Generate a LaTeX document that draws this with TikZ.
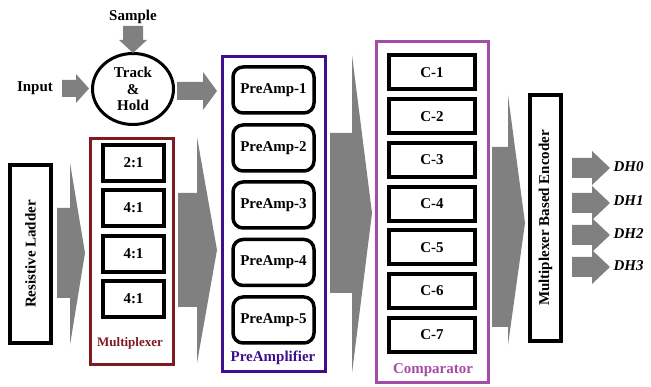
\documentclass[tikz,border=0pt]{standalone}
\usepackage{fontspec}
\setmainfont{Liberation Serif}
\usetikzlibrary{shapes.geometric}
\definecolor{muxred}{HTML}{801A22}
\definecolor{papurple}{HTML}{3F0F8E}
\definecolor{cmporchid}{HTML}{A54BA8}
\definecolor{arrgray}{HTML}{808080}
\begin{document}
\begin{tikzpicture}[x=1pt,y=-1pt,
  font=\bfseries\fontsize{15}{17}\selectfont,
  muxbox/.style={draw=black, line width=4pt, fill=white, minimum width=61pt, minimum height=36pt, inner sep=0pt},
  pabox/.style={draw=black, line width=3.5pt, rounded corners=10pt, fill=white, minimum width=81pt, minimum height=46pt, inner sep=0pt},
  cbox/.style={draw=black, line width=4pt, fill=white, minimum width=86pt, minimum height=34pt, inner sep=0pt},
  outerbox/.style={draw=#1, line width=3pt, inner sep=0pt},
  tallbox/.style={draw=black, line width=4pt, fill=white, inner sep=0pt},
  garrow/.style={fill=arrgray, draw=none},
  dhlabel/.style={anchor=west, font=\bfseries\itshape\fontsize{15}{17}\selectfont}
]
\useasboundingbox (0,0) rectangle (651,387);

% outer group boxes
\node[outerbox=muxred, minimum width=83pt, minimum height=226pt] (mux) at (132,251.5) {};
\node[outerbox=papurple, minimum width=103pt, minimum height=315pt] (pre) at (274,214) {};
\node[outerbox=cmporchid, minimum width=112pt, minimum height=341pt] (cmp) at (432.5,212) {};

% top inputs
\node (sample) at (133,17) {Sample};
\node (input) at (35,88) {Input};
\node[draw=black, line width=3pt, ellipse, minimum width=81pt, minimum height=71pt, inner sep=0pt, align=center] (th) at (133,89) {Track\\[-0.5pt]\&\\[-0.5pt]Hold};

% resistive ladder
\node[tallbox, minimum width=41pt, minimum height=178pt] (ladder) at (30.5,254) {};
\node[rotate=90] (ladderlbl) at (ladder.center) {Resistive Ladder};

% multiplexer contents
\node[muxbox] (m1) at (133.5,163) {2:1};
\node[muxbox] (m2) at (133.5,208) {4:1};
\node[muxbox] (m3) at (133.5,254) {4:1};
\node[muxbox] (m4) at (133.5,299) {4:1};
\node[text=muxred, font=\bfseries\fontsize{13}{15}\selectfont] (muxlbl) at (130,343) {Multiplexer};

% preamplifiers
\node[pabox] (p1) at (273.5,90) {PreAmp-1};
\node[pabox] (p2) at (273.5,148) {PreAmp-2};
\node[pabox] (p3) at (273.5,205) {PreAmp-3};
\node[pabox] (p4) at (273.5,262.5) {PreAmp-4};
\node[pabox] (p5) at (273.5,320) {PreAmp-5};
\node[text=papurple] (prelbl) at (273,358) {PreAmplifier};

% comparators
\node[cbox] (c1) at (432,72.5) {C-1};
\node[cbox] (c2) at (432,116.5) {C-2};
\node[cbox] (c3) at (432,160) {C-3};
\node[cbox] (c4) at (432,204) {C-4};
\node[cbox] (c5) at (432,247.5) {C-5};
\node[cbox] (c6) at (432,291) {C-6};
\node[cbox] (c7) at (432,335) {C-7};
\node[text=cmporchid] (cmplbl) at (433,370) {Comparator};

% encoder
\node[tallbox, minimum width=31pt, minimum height=246pt] (enc) at (545.5,218) {};
\node[rotate=90] (enclbl) at (enc.center) {Multiplexer Based Encoder};

% outputs
\node[dhlabel] (dh0) at (610,167) {DH0};
\node[dhlabel] (dh1) at (610,201) {DH1};
\node[dhlabel] (dh2) at (610,234) {DH2};
\node[dhlabel] (dh3) at (610,266) {DH3};

% small gray arrows
\fill[garrow] (123,26) -- (143,26) -- (143,40) -- (147,40) -- (133,53) -- (119,40) -- (123,40) -- cycle;
\fill[garrow] (62,80) -- (76,80) -- (76,74) -- (89,88.5) -- (76,103) -- (76,97) -- (62,97) -- cycle;
\fill[garrow] (177,82) -- (203,82) -- (203,72) -- (217,91) -- (203,110) -- (203,100) -- (177,100) -- cycle;
\foreach \yy in {168,203,235,267}{
  \fill[garrow] (572,\yy-10) -- (592,\yy-10) -- (592,\yy-17) -- (610,\yy) -- (592,\yy+17) -- (592,\yy+10) -- (572,\yy+10) -- cycle;
}

% big gray arrows
\fill[garrow] (57,208) -- (70,208) -- (70,163) -- (85,253) -- (70,345) -- (70,298) -- (57,298) -- cycle;
\fill[garrow] (178,193) -- (197,193) -- (197,137) -- (217,250) -- (197,363) -- (197,307) -- (178,307) -- cycle;
\fill[garrow] (330,133) -- (352,133) -- (352,55) -- (372,213) -- (352,373) -- (352,293) -- (330,293) -- cycle;
\fill[garrow] (492,147) -- (508,147) -- (508,95) -- (525,223) -- (508,345) -- (508,327) -- (492,327) -- cycle;
\end{tikzpicture}
\end{document}
